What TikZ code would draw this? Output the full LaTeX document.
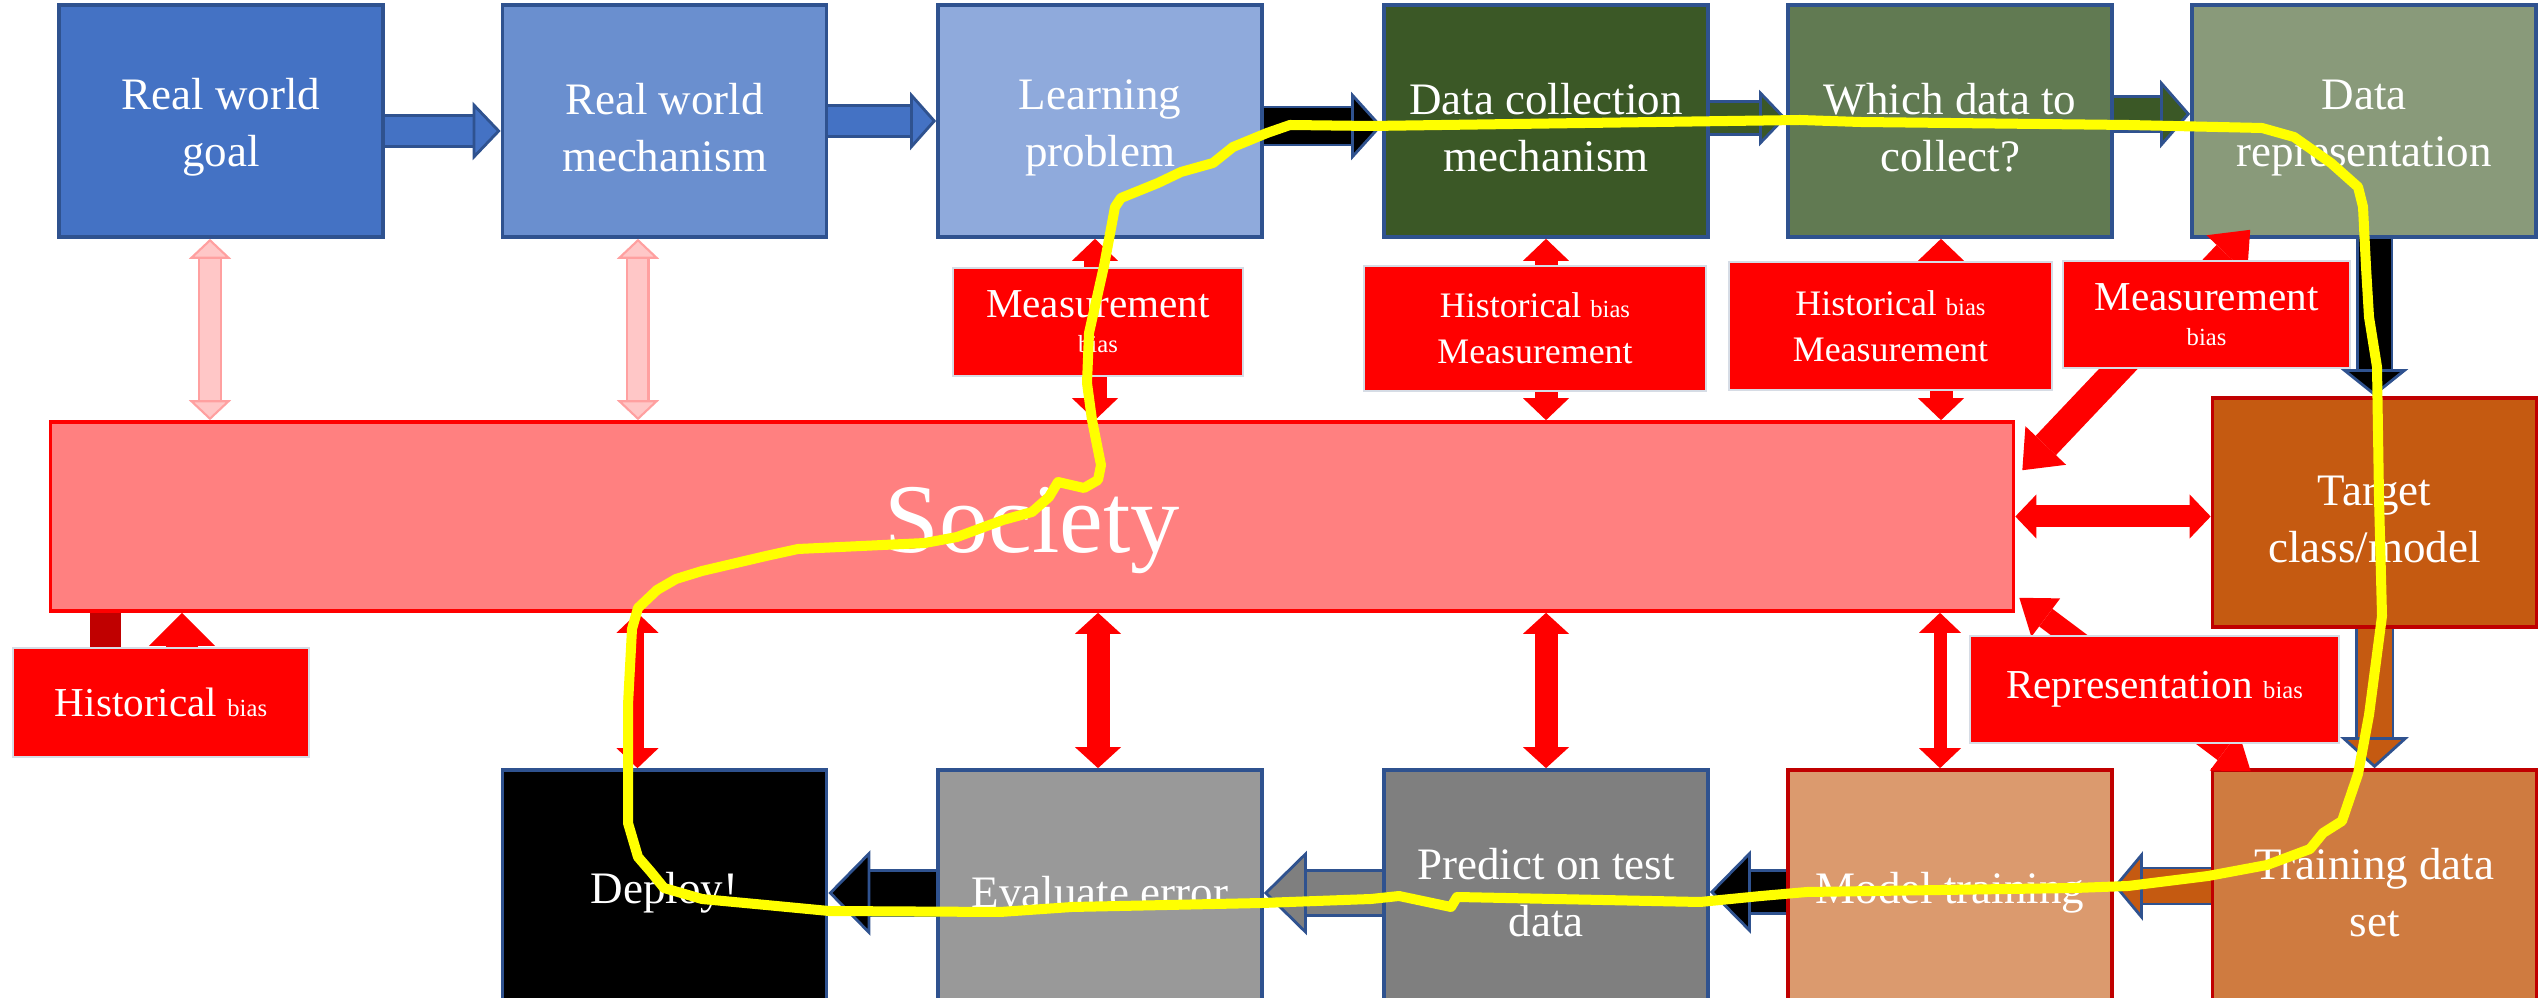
\documentclass[tikz,border=0pt]{standalone}
\usepackage{fontspec}
\setmainfont{Liberation Serif}
\usetikzlibrary{arrows.meta}
\definecolor{goalblue}   {RGB}{68, 114, 196}
\definecolor{mechblue}   {RGB}{106, 143, 207}
\definecolor{learnblue}  {RGB}{143, 170, 220}
\definecolor{edgeblue}   {RGB}{47,  82, 143}
\definecolor{dcgreen}    {RGB}{59,  88,  38}
\definecolor{whichgreen} {RGB}{97, 122,  82}
\definecolor{repgreen}   {RGB}{137, 154, 122}
\definecolor{socred}     {RGB}{255, 128, 128}
\definecolor{biasred}    {RGB}{255,   0,   0}
\definecolor{darkred}    {RGB}{192,   0,   0}
\definecolor{tgtorange}  {RGB}{197,  90,  17}
\definecolor{tsetorange} {RGB}{207, 123,  64}
\definecolor{trainorange}{RGB}{219, 154, 110}
\definecolor{predgray}   {RGB}{127, 127, 127}
\definecolor{evalgray}   {RGB}{153, 153, 153}
\definecolor{pinkfill}   {RGB}{255, 199, 199}
\definecolor{pinkline}   {RGB}{255, 160, 160}
\definecolor{labelline}  {RGB}{214, 220, 229}
\definecolor{hlyellow}   {RGB}{255, 255,   0}
\newcommand{\stagefont}{\fontsize{12.8pt}{16.2pt}\selectfont}
\newcommand{\socfont}{\fontsize{28pt}{33pt}\selectfont}
\newcommand{\labfont}{\fontsize{11.7pt}{10pt}\selectfont}
\newcommand{\histfont}{\fontsize{10.2pt}{13pt}\selectfont}
\newcommand{\smallbias}{{\fontsize{7pt}{8pt}\selectfont bias}}
\newcommand{\topstrut}{\rule{0pt}{12.6pt}}
\tikzset{
  stage/.style={fill=#1, draw=edgeblue, line width=1pt, text=white, align=center,
    minimum width=3.24cm, minimum height=2.32cm, inner sep=0pt, font=\stagefont},
  biasbox/.style={fill=biasred, draw=labelline, line width=0.6pt, text=white,
    align=center, inner sep=0pt, font=\labfont},
  blockarr/.style n args={5}{draw=#1, line width=#3,
    -{Triangle[length=#5, width=#4, fill=#1, color=#2, line width=0.8pt]},
    preaction={draw=#2, line width=#3+1.6pt, -, shorten >=#5-0.05cm}},
  redarr/.style n args={3}{draw=biasred, line width=#1,
    >={Triangle[length=#3, width=#2, line width=0pt]}, <->},
  pinkarr/.style={draw=pinkfill, line width=0.19cm,
    >={Triangle[length=0.2cm, width=0.42cm, fill=pinkfill, color=pinkline, line width=0.6pt]}, <->,
    preaction={draw=pinkline, line width=0.19cm+1.2pt, -, shorten >=0.15cm, shorten <=0.15cm}},
  hilite/.style={draw=hlyellow, line width=0.1cm, line join=round, line cap=round}
}

\begin{document}
\begin{tikzpicture}[x=0.01cm, y=-0.01cm]
  \useasboundingbox (0,0) rectangle (2539,998);
  % top row
  \node[stage=goalblue] (goal) at (221,121) {\topstrut Real world\\goal};
  \node[stage=mechblue] (mech) at (664.5,121) {\topstrut Real world\\mechanism};
  \node[stage=learnblue] (learn) at (1100,121) {\topstrut Learning\\problem};
  \node[stage=dcgreen] (dcol) at (1546,121) {\topstrut Data collection\\mechanism};
  \node[stage=whichgreen] (which) at (1950,121) {\topstrut Which data to\\collect?};
  \node[stage=repgreen, minimum width=3.44cm] (rep) at (2364,121) {\topstrut Data\\representation};
  % society and target
  \node[stage=socred, draw=biasred, minimum width=19.62cm, minimum height=1.89cm,
    font=\socfont, execute at begin node={\rule{0pt}{26.5pt}}] (soc) at (1032,516.5) {Society};
  \node[stage=tgtorange, draw=darkred, minimum height=2.29cm] (tgt) at (2374.5,512.5) {\topstrut Target\\class/model};
  % bottom row
  \node[stage=tsetorange, draw=darkred] (tset) at (2374.5,886) {\topstrut Training data\\set};
  \node[stage=trainorange, draw=darkred] (train) at (1950,886) {\topstrut Model training};
  \node[stage=predgray] (pred) at (1546,886) {\topstrut Predict on test\\data};
  \node[stage=evalgray] (evalerr) at (1100,886) {\topstrut Evaluate error};
  \node[stage=black] (deploy) at (664.5,886) {\topstrut Deploy!};
  % pipeline arrows
  \draw[blockarr={goalblue}{edgeblue}{0.28cm}{0.58cm}{0.28cm}] ([yshift=-0.1cm]goal.east) -- ([yshift=-0.1cm]mech.west);
  \draw[blockarr={goalblue}{edgeblue}{0.28cm}{0.58cm}{0.26cm}] (mech.east) -- (learn.west);
  \draw[blockarr={black}{edgeblue}{0.35cm}{0.68cm}{0.31cm}] ([yshift=-0.05cm]learn.east) -- ([yshift=-0.05cm]dcol.west);
  \draw[blockarr={dcgreen}{edgeblue}{0.3cm}{0.56cm}{0.27cm}] ([yshift=0.03cm]dcol.east) -- ([yshift=0.03cm]which.west);
  \draw[blockarr={dcgreen}{edgeblue}{0.32cm}{0.68cm}{0.3cm}] ([yshift=0.07cm]which.east) -- ([yshift=0.07cm]rep.west);
  \draw[blockarr={black}{edgeblue}{0.32cm}{0.67cm}{0.27cm}] (tgt.north |- rep.south) -- (tgt.north);
  \draw[blockarr={tgtorange}{edgeblue}{0.34cm}{0.68cm}{0.31cm}] (tgt.south) -- (tset.north);
  \draw[blockarr={tgtorange}{edgeblue}{0.33cm}{0.69cm}{0.29cm}] (tset.west) -- (train.east);
  \draw[blockarr={black}{edgeblue}{0.4cm}{0.83cm}{0.41cm}] ([yshift=-0.06cm]train.west) -- ([yshift=-0.06cm]pred.east);
  \draw[blockarr={predgray}{edgeblue}{0.42cm}{0.84cm}{0.43cm}] ([yshift=-0.07cm]pred.west) -- ([yshift=-0.07cm]evalerr.east);
  \draw[blockarr={black}{edgeblue}{0.42cm}{0.85cm}{0.42cm}] ([yshift=-0.07cm]evalerr.west) -- ([yshift=-0.07cm]deploy.east);
  % links to society
  \draw[pinkarr] ([xshift=-0.11cm]goal.south) -- ([xshift=-0.11cm]goal.south |- soc.north);
  \draw[pinkarr] ([xshift=-0.265cm]mech.south) -- ([xshift=-0.265cm]mech.south |- soc.north);
  \draw[redarr={0.23cm}{0.46cm}{0.22cm}] ([xshift=-0.05cm]learn.south) -- ([xshift=-0.05cm]learn.south |- soc.north);
  \draw[redarr={0.23cm}{0.46cm}{0.22cm}] (dcol.south) -- (dcol.south |- soc.north);
  \draw[redarr={0.23cm}{0.46cm}{0.22cm}] ([xshift=-0.09cm]which.south) -- ([xshift=-0.09cm]which.south |- soc.north);
  \draw[redarr={0.28cm}{0.56cm}{0.34cm}] ([xshift=0.07cm, yshift=-0.5cm]soc.north east) -- ([xshift=0.6cm, yshift=0.09cm]rep.south west);
  \draw[redarr={0.22cm}{0.44cm}{0.21cm}] (soc.east) -- (soc.east -| tgt.west);
  \draw[redarr={0.22cm}{0.48cm}{0.33cm}] ([xshift=0.04cm, yshift=0.15cm]soc.south east) -- ([xshift=0.4cm, yshift=-0.03cm]tset.north west);
  \draw[redarr={0.13cm}{0.42cm}{0.2cm}] ([xshift=-0.1cm]train.north) -- ([xshift=-0.1cm]train.north |- soc.south);
  \draw[redarr={0.23cm}{0.46cm}{0.21cm}] (pred.north) -- (pred.north |- soc.south);
  \draw[redarr={0.23cm}{0.46cm}{0.21cm}] ([xshift=-0.02cm]evalerr.north) -- ([xshift=-0.02cm]evalerr.north |- soc.south);
  \draw[redarr={0.13cm}{0.42cm}{0.2cm}] ([xshift=-0.27cm]deploy.north) -- ([xshift=-0.27cm]deploy.north |- soc.south);
  % bias labels
  \node[biasbox, minimum width=2.9cm, minimum height=1.08cm] (mlearn) at (1098,322) {Measurement\\\smallbias};
  \node[biasbox, font=\histfont, minimum width=3.42cm, minimum height=1.25cm] (hdcol) at (1535,328.5) {Historical \smallbias\\Measurement};
  \node[biasbox, font=\histfont, minimum width=3.23cm, minimum height=1.28cm] (hwhich) at (1890.5,326) {Historical \smallbias\\Measurement};
  \node[biasbox, minimum width=2.87cm, minimum height=1.07cm] (mrep) at (2206.5,314.5) {Measurement\\\smallbias};
  \node[biasbox, minimum width=3.69cm, minimum height=1.07cm] (repbias) at (2154.5,689.5) {Representation \smallbias};
  \node[biasbox, minimum width=2.96cm, minimum height=1.09cm] (hleft) at (161,702.5) {Historical \smallbias};
  \draw[draw=darkred, line width=0.31cm] ([xshift=-0.55cm]hleft.north) -- ([xshift=-0.55cm]hleft.north |- soc.south);
  \draw[draw=biasred, line width=0.32cm, -{Triangle[length=0.33cm, width=0.66cm, line width=0pt]}]
    ([xshift=0.21cm]hleft.north) -- ([xshift=0.21cm]hleft.north |- soc.south);
  % highlighted loop
  \draw[hilite] (664,888) -- (651,872) -- (638,857) -- (628,823) -- (628,705) -- (632,629)
    -- (638,608) -- (657,590) -- (676,579) -- (702,571) -- (766,556) -- (798,549) -- (925,543)
    -- (957,537) -- (1003,520) -- (1032,512) -- (1049,497) -- (1058,482) -- (1084,488)
    -- (1098,480) -- (1101,465) -- (1092,420) -- (1087,383) -- (1089,333) -- (1104,266)
    -- (1115,207) -- (1121,198) -- (1158,183) -- (1181,172) -- (1213,163) -- (1233,147)
    -- (1267,133) -- (1290,125) -- (1371,126) -- (1800,120) -- (1860,122) -- (2128,125)
    -- (2262,128) -- (2294,137) -- (2331,163) -- (2358,187) -- (2363,207) -- (2366,267)
    -- (2369,317) -- (2377,367) -- (2379,498) -- (2382,616) -- (2369,715) -- (2358,774)
    -- (2342,821) -- (2323,833) -- (2310,849) -- (2267,865) -- (2208,876) -- (2128,886)
    -- (2075,888) -- (1807,892) -- (1761,896) -- (1700,902) -- (1457,897) -- (1451,907)
    -- (1399,896) -- (1371,899) -- (1262,903) -- (1072,907) -- (1000,912) -- (829,911)
    -- (766,905) -- (702,899) -- cycle;
\end{tikzpicture}
\end{document}
